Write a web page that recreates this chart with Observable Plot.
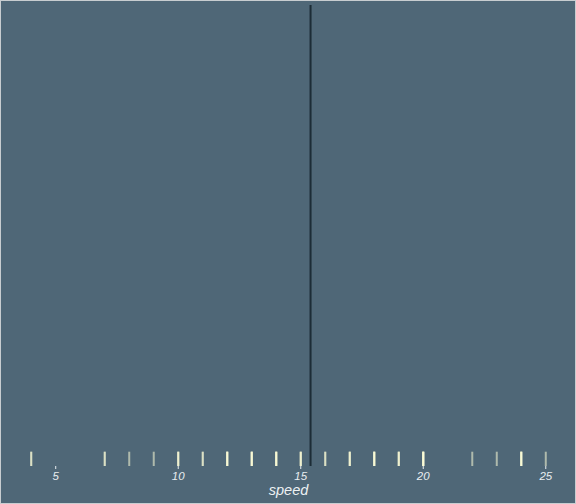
<!DOCTYPE html>
<html>
<head>
<meta charset="utf-8">
<script src="https://cdn.jsdelivr.net/npm/d3@7"></script>
<script src="https://cdn.jsdelivr.net/npm/@observablehq/plot@0.6"></script>
<style>
  html, body { margin: 0; padding: 0; background: #4f6777; }
  svg { display: block; outline: 1px solid #c8cdd0; outline-offset: -1px; }
</style>
</head>
<body>
<div id="chart"></div>
<script>
// cars$speed (rug observations)
const speeds = [4,4,7,7,8,9,10,10,10,11,11,12,12,12,12,13,13,13,13,14,14,14,14,15,15,15,16,16,17,17,17,18,18,18,18,19,19,19,20,20,20,20,20,22,23,24,24,24,24,25];
const xTicks = [5, 10, 15, 20, 25];
const xLabel = "speed";

const meanSpeed = d3.mean(speeds);
const lo = d3.min(speeds), hi = d3.max(speeds);
const pad = (hi - lo) * 0.05;

const chart = Plot.plot({
  width: 576,
  height: 504,
  marginLeft: 5,
  marginRight: 5,
  marginTop: 5,
  marginBottom: 38,
  style: { background: "#4f6777", fontFamily: "'Liberation Sans', Arial, sans-serif", overflow: "visible" },
  x: { domain: [lo - pad, hi + pad] },
  y: { domain: [0, 1], axis: null },
  marks: [
    Plot.ruleX(speeds, { x: d => d, y1: 0, y2: 0.031, stroke: "#ffffd8", strokeOpacity: 0.55, strokeWidth: 2 }),
    Plot.ruleX([meanSpeed], { x: d => d, y1: 0, y2: 1, stroke: "#1c2c36", strokeWidth: 2 }),
    Plot.axisX({
      ticks: xTicks,
      tickSize: 3,
      tickPadding: 2,
      stroke: "#e8edf0",
      fill: "#e8edf0",
      fontSize: 11.5,
      fontStyle: "italic",
      label: null
    }),
    Plot.text([xLabel], {
      text: d => d,
      frameAnchor: "bottom",
      dy: 28,
      fill: "#eef2f4",
      fontSize: 14.5,
      fontStyle: "italic"
    })
  ]
});
document.getElementById("chart").append(chart);
</script>
</body>
</html>
